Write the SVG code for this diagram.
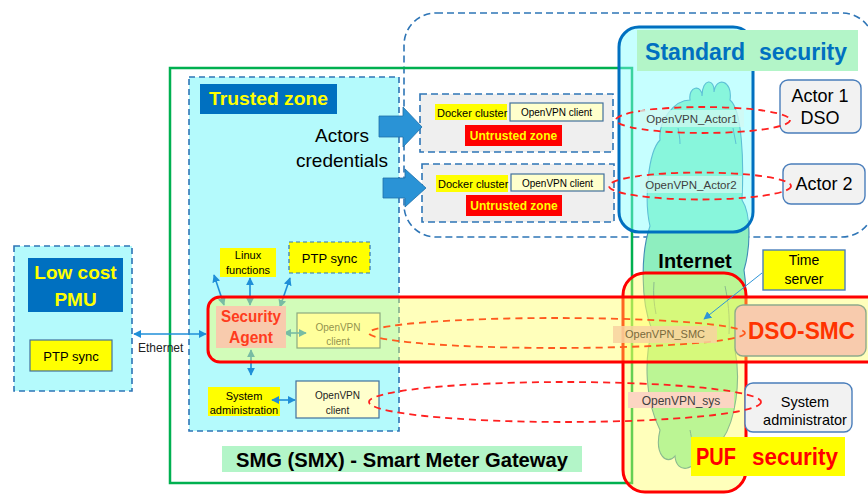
<svg xmlns="http://www.w3.org/2000/svg" width="868" height="494" viewBox="0 0 868 494">
  <style>
    text { font-family: "Liberation Sans", Arial, sans-serif; }
    .dash { fill: none; stroke: #2e75b6; stroke-width: 1.6; stroke-dasharray: 7 4; }
    .zone { fill: #b4fafc; stroke: #2e75b6; stroke-width: 1.6; stroke-dasharray: 6 4; }
    .dock { fill: #efefef; stroke: #2e75b6; stroke-width: 1.6; stroke-dasharray: 7 4; }
    .cli { fill: #ffffcc; stroke: #41719c; stroke-width: 1.2; }
    .yel { fill: #ffff00; }
    .box { fill: #f2f2f2; stroke: #4a7ebb; stroke-width: 1.4; }
    .lnk { fill: none; stroke: #1f8fd8; stroke-width: 1.6; marker-start: url(#ah); marker-end: url(#ah); }
    .tun { fill: none; stroke: #ff2020; stroke-width: 1.8; stroke-dasharray: 7 5; }
    .tunO { fill: none; stroke: #ff5a1e; stroke-width: 1.8; stroke-dasharray: 7 5; }
    .over { fill: #ffff55; fill-opacity: 0.4; stroke: #ff0000; stroke-width: 3; }
    .s10 { font-size: 10px; }
    .s11 { font-size: 11px; }
    .mid { text-anchor: middle; }
  </style>
  <defs>
    <marker id="ah" viewBox="0 0 10 10" refX="9" refY="5" markerWidth="5" markerHeight="5" orient="auto-start-reverse">
      <path d="M0,0 L10,5 L0,10 z" fill="#1f8fd8"/>
    </marker>
    <marker id="ahThin" viewBox="0 0 10 10" refX="9" refY="5" markerWidth="8" markerHeight="8" markerUnits="userSpaceOnUse" orient="auto">
      <path d="M0,0 L10,5 L0,10 z" fill="#2e95d8"/>
    </marker>
  </defs>

  <rect width="868" height="494" fill="#ffffff"/>

  <!-- cloud zone (dashed, top right) -->
  <rect id="external-zone" class="dash" x="404" y="13" width="470" height="224" rx="32"/>

  <!-- smart meter gateway frame -->
  <rect id="smg-frame" x="170" y="68" width="462" height="415" fill="none" stroke="#00b050" stroke-width="2.5"/>

  <!-- trusted zone -->
  <g id="trusted-zone">
    <rect class="zone" x="189" y="77" width="210" height="354"/>
    <rect x="200" y="84" width="137" height="30" fill="#0070c0"/>
    <text x="209" y="105" font-size="19" font-weight="bold" fill="#ffff00" textLength="119" lengthAdjust="spacingAndGlyphs">Trusted zone</text>
    <text class="mid" x="342" y="142" font-size="19" fill="#000">Actors</text>
    <text class="mid" x="342" y="167" font-size="19" fill="#000">credentials</text>
  </g>

  <!-- docker clusters -->
  <g id="docker-1">
    <rect class="dock" x="420" y="94" width="193" height="58"/>
    <rect class="yel" x="435" y="104" width="72" height="16"/>
    <text class="s11" x="437" y="116.5" fill="#000">Docker cluster</text>
    <rect class="cli" x="510" y="103" width="93" height="18"/>
    <text class="s10 mid" x="556.5" y="116" fill="#000">OpenVPN client</text>
    <rect x="465" y="125" width="97" height="21" fill="#ff0000"/>
    <text class="mid" x="513.5" y="140" font-size="12" font-weight="bold" fill="#ffff00">Untrusted zone</text>
  </g>
  <g id="docker-2">
    <rect class="dock" x="422" y="164" width="192" height="58"/>
    <rect class="yel" x="436" y="175" width="72" height="17"/>
    <text class="s11" x="438" y="187.5" fill="#000">Docker cluster</text>
    <rect class="cli" x="511" y="174" width="93" height="17"/>
    <text class="s10 mid" x="557.5" y="186.5" fill="#000">OpenVPN client</text>
    <rect x="466" y="195" width="96" height="21" fill="#ff0000"/>
    <text class="mid" x="514" y="210" font-size="12" font-weight="bold" fill="#ffff00">Untrusted zone</text>
  </g>

  <!-- internet cloud -->
  <g id="internet">
    <path d="M690 100 C688 86 702 84 702 96 C702 78 715 78 714 92 C716 76 733 80 730 100
             C742 110 744 160 742 200 C752 215 750 250 744 270 C749 300 743 330 735 350
             C741 380 736 420 722 440 C721 460 705 466 700 452 C696 472 676 474 675 456
             C667 466 654 455 660 430 C645 400 644 360 652 330 C640 300 641 252 650 226
             C644 200 648 152 660 140 C658 120 675 100 690 100 Z"
          fill="#8eeebf" stroke="#3f8db5" stroke-width="1.1"/>
    <g fill="none" stroke="#3f8db5" stroke-width="1">
      <path d="M678 128 C679 134 680 138 680 144"/>
      <path d="M733 128 C734 134 735 138 736 144"/>
      <path d="M654 282 C653 294 654 304 656 314"/>
      <path d="M725 286 C728 300 730 316 729 334"/>
      <path d="M690 430 C692 440 693 446 692 452"/>
    </g>
    <text x="695" y="268" class="mid" font-size="20" font-weight="bold" fill="#000">Internet</text>
  </g>

  <!-- standard security domain -->
  <g id="standard-security">
    <rect x="619" y="27" width="134" height="205" rx="20" fill="#80ffff" fill-opacity="0.45" stroke="#0070c0" stroke-width="3"/>
    <rect x="637" y="30" width="221" height="41" fill="#b3f5c8"/>
    <text x="645" y="60" font-size="23" font-weight="bold" fill="#0070c0" textLength="100" lengthAdjust="spacingAndGlyphs">Standard</text>
    <text x="759" y="60" font-size="23" font-weight="bold" fill="#0070c0" textLength="88" lengthAdjust="spacingAndGlyphs">security</text>
  </g>

  <!-- actors -->
  <g id="actor-1">
    <rect class="box" x="780" y="80" width="81" height="53" rx="8"/>
    <text class="mid" x="820" y="102" font-size="18" fill="#000">Actor 1</text>
    <text class="mid" x="820" y="124" font-size="18" fill="#000">DSO</text>
  </g>
  <g id="actor-2">
    <rect class="box" x="783" y="164" width="82" height="40" rx="8"/>
    <text class="mid" x="824" y="190" font-size="18" fill="#000">Actor 2</text>
  </g>

  <!-- low cost PMU -->
  <g id="pmu">
    <rect class="zone" x="14" y="246" width="118" height="145"/>
    <rect x="28" y="258" width="95" height="54" fill="#0070c0"/>
    <text class="mid" x="75.5" y="279" font-size="19" font-weight="bold" fill="#ffff00">Low cost</text>
    <text class="mid" x="75.5" y="306" font-size="19" font-weight="bold" fill="#ffff00">PMU</text>
    <rect x="30" y="340" width="82" height="31" fill="#ffff00" stroke="#41719c" stroke-width="1.2"/>
    <text class="mid" x="71" y="361" font-size="13" fill="#000">PTP sync</text>
  </g>

  <!-- trusted zone functions -->
  <g id="linux-functions">
    <rect class="yel" x="220" y="248" width="56" height="29"/>
    <text class="s11 mid" x="248" y="259" fill="#000">Linux</text>
    <text class="s11 mid" x="248" y="274" fill="#000">functions</text>
  </g>
  <g id="ptp-sync">
    <rect x="289" y="242" width="81" height="31" fill="#ffff00" stroke="#2e75b6" stroke-width="1.2" stroke-dasharray="4 3"/>
    <text class="mid" x="329.5" y="262.5" font-size="13" fill="#000">PTP sync</text>
  </g>
  <g id="openvpn-smc-client">
    <rect class="cli" x="297" y="313" width="83" height="35"/>
    <text class="s10 mid" x="338" y="331" fill="#4a4a4a">OpenVPN</text>
    <text class="s10 mid" x="338" y="345" fill="#4a4a4a">client</text>
  </g>
  <g id="system-administration">
    <rect class="yel" x="208" y="387" width="72" height="29"/>
    <text class="s11 mid" x="244" y="400" fill="#000">System</text>
    <text class="s11 mid" x="244" y="414" fill="#000">administration</text>
  </g>
  <g id="openvpn-sys-client">
    <rect class="cli" x="296" y="381" width="83" height="37"/>
    <text class="s10 mid" x="337.5" y="399" fill="#222">OpenVPN</text>
    <text class="s10 mid" x="337.5" y="414" fill="#222">client</text>
  </g>

  <!-- local links -->
  <g id="connectors">
    <line class="lnk" x1="134" y1="334" x2="206" y2="334" stroke-width="2"/>
    <text x="138" y="352" font-size="12" fill="#222">Ethernet</text>
    <line class="lnk" x1="214" y1="275" x2="224" y2="305"/>
    <line class="lnk" x1="250" y1="278" x2="250" y2="305"/>
    <line class="lnk" x1="290" y1="278" x2="280" y2="307"/>
    <line class="lnk" x1="284" y1="333" x2="306" y2="333"/>
    <line class="lnk" x1="251" y1="350" x2="251" y2="375"/>
    <line class="lnk" x1="272" y1="400" x2="295" y2="400"/>
  </g>

  <!-- PUF security domain -->
  <g id="puf-security">
    <rect class="over" x="623" y="273" width="123" height="219" rx="22"/>
  </g>

  <!-- DSO-SMC band -->
  <g id="dso-smc-band">
    <rect class="over" x="208" y="297" width="690" height="65" rx="12"/>
  </g>

  <g id="security-agent">
    <rect x="216" y="306" width="70" height="42" fill="#f8cbad"/>
    <text class="mid" x="251" y="322" font-size="16.5" font-weight="bold" fill="#ff3c1e" textLength="60" lengthAdjust="spacingAndGlyphs">Security</text>
    <text class="mid" x="251" y="343" font-size="16.5" font-weight="bold" fill="#ff3c1e" textLength="44" lengthAdjust="spacingAndGlyphs">Agent</text>
  </g>

  <g id="dso-smc">
    <rect x="735" y="305" width="131" height="51" rx="8" fill="#f8cbad" stroke="#8faa8c" stroke-width="1.4"/>
    <text x="748" y="339" font-size="23" font-weight="bold" fill="#ff3300" textLength="107" lengthAdjust="spacingAndGlyphs">DSO-SMC</text>
  </g>

  <g id="time-server">
    <rect x="763" y="250" width="82" height="40" fill="#ffff00" stroke="#4a7ebb" stroke-width="1.4"/>
    <text class="mid" x="804" y="265" font-size="14" fill="#000">Time</text>
    <text class="mid" x="804" y="284" font-size="14" fill="#000">server</text>
  </g>

  <g id="system-administrator">
    <rect class="box" x="745" y="383" width="107" height="49" rx="8"/>
    <text class="mid" x="805" y="407" font-size="14.5" fill="#000">System</text>
    <text class="mid" x="805" y="425" font-size="14.5" fill="#000">administrator</text>
  </g>

  <!-- VPN tunnels -->
  <g id="tunnels">
    <line x1="762" y1="273" x2="704" y2="319" stroke="#2e95d8" stroke-width="1" marker-end="url(#ahThin)"/>
    <ellipse class="tun" cx="703" cy="120" rx="87" ry="13"/>
    <ellipse class="tun" cx="700" cy="186" rx="91" ry="13.5"/>
    <ellipse class="tunO" cx="557" cy="333" rx="188" ry="15"/>
    <ellipse class="tun" cx="565" cy="402" rx="196" ry="20"/>

    <rect x="640" y="110" width="104" height="17" fill="#d2f8f2" fill-opacity="0.75"/>
    <text class="mid" x="692" y="123" font-size="11.5" fill="#404040">OpenVPN_Actor1</text>
    <rect x="640" y="176" width="102" height="17" fill="#d2f8f2" fill-opacity="0.75"/>
    <text class="mid" x="691" y="189" font-size="11.5" fill="#404040">OpenVPN_Actor2</text>
    <rect x="613" y="326" width="104" height="17" fill="#f8d2a0" fill-opacity="0.85"/>
    <text class="mid" x="665" y="338" font-size="11" fill="#7a6a3c">OpenVPN_SMC</text>
    <rect x="628" y="392" width="106" height="16" fill="#fcd5c2"/>
    <text class="mid" x="681" y="405" font-size="12" fill="#404040">OpenVPN_sys</text>
  </g>

  <!-- domain labels -->
  <g id="puf-label">
    <rect x="691" y="437" width="154" height="39" fill="#ffff00"/>
    <text x="696" y="465" font-size="23" font-weight="bold" fill="#ff0000" textLength="40" lengthAdjust="spacingAndGlyphs">PUF</text>
    <text x="752" y="465" font-size="23" font-weight="bold" fill="#ff0000" textLength="86" lengthAdjust="spacingAndGlyphs">security</text>
  </g>
  <g id="smg-label">
    <rect x="222" y="446" width="360" height="26" fill="#b3f5c8"/>
    <text x="236" y="467" font-size="20" font-weight="bold" fill="#000" textLength="332" lengthAdjust="spacingAndGlyphs">SMG (SMX) - Smart Meter Gateway</text>
  </g>

  <!-- credential hand-over arrows -->
  <g id="credential-arrows" fill="#2a93d6" stroke="#1f6fa8" stroke-width="0.8">
    <polygon points="379,116 403,116 403,107 422,127 403,147 403,137 379,137"/>
    <polygon points="383,178 405,178 405,169 426,188 405,207 405,198 383,198"/>
  </g>
</svg>
